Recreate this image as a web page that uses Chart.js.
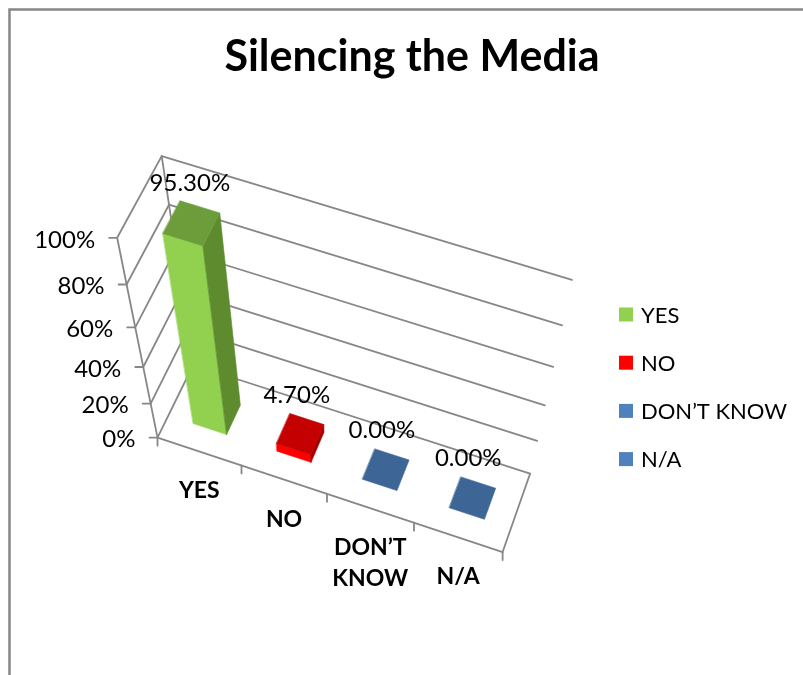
<!DOCTYPE html>
<html>
<head>
<meta charset="utf-8">
<title>Silencing the Media</title>
<script src="https://cdn.jsdelivr.net/npm/chart.js@4.4.1/dist/chart.umd.min.js"></script>
<style>
  html, body { margin: 0; padding: 0; background: #ffffff; }
  #wrap { position: relative; width: 803px; height: 675px; }
</style>
</head>
<body>
<div id="wrap"><canvas id="chart" width="803" height="675"></canvas></div>
<script>
// ---- data ----
const chartTitle = 'Silencing the Media';
const categories = ['YES', 'NO', 'DON\u2019T KNOW', 'N/A'];
const categoryLines = [['YES'], ['NO'], ['DON\u2019T', 'KNOW'], ['N/A']];
const shares = [95.3, 4.7, 0, 0];               // percent of answers
const shareLabels = ['95.30%', '4.70%', '0.00%', '0.00%'];
const valueAxisTicks = [0, 20, 40, 60, 80, 100];

// ---- styles ----
const faceColors = [
  { front: '#92D050', side: '#5E8B2E', top: '#6C9D3A' },
  { front: '#FF0000', side: '#A30000', top: '#C40000' },
  { front: '#4F81BD', side: '#2F5480', top: '#3D6595' },
  { front: '#4F81BD', side: '#2F5480', top: '#3D6595' }
];
const legendColors = ['#92D050', '#FF0000', '#4F81BD', '#4F81BD'];
const lineGray = '#878787';
const BAR_DEPTH = [0.3, 0.7];   // front / back of the columns along the depth axis

// Perspective of the 3-D box: screen positions of box landmarks,
// given as (u along categories, v along values, w along depth) -> (x, y).
const boxLandmarks = [
  [0, 0.0, 0, 158, 438], [0, 0.2, 0, 150, 404], [0, 0.4, 0, 142.5, 367],
  [0, 0.6, 0, 134.5, 327], [0, 0.8, 0, 126.5, 285], [0, 1.0, 0, 118, 238],
  [0, 1.0, 1, 162, 156],
  [1, 1.0, 1, 572, 280], [1, 0.8, 1, 562, 324], [1, 0.6, 1, 553, 367],
  [1, 0.4, 1, 545, 406], [1, 0.2, 1, 537, 442], [1, 0.0, 1, 530, 473],
  [0.25, 0, 0, 242, 465], [0.5, 0, 0, 327, 493], [0.75, 0, 0, 415, 522],
  [1, 0, 0, 502, 553]
];

// least-squares projective map (u,v,w) -> (x,y)
function fitProjection(pts) {
  const n = 11;
  const M = Array.from({ length: n }, () => new Array(n + 1).fill(0));
  const addRow = (r, b) => {
    for (let i = 0; i < n; i++) {
      for (let j = 0; j < n; j++) M[i][j] += r[i] * r[j];
      M[i][n] += r[i] * b;
    }
  };
  pts.forEach(([u, v, w, X, Y]) => {
    addRow([u, v, w, 1, 0, 0, 0, 0, -X * u, -X * v, -X * w], X);
    addRow([0, 0, 0, 0, u, v, w, 1, -Y * u, -Y * v, -Y * w], Y);
  });
  for (let c = 0; c < n; c++) {
    let p = c;
    for (let r = c + 1; r < n; r++) if (Math.abs(M[r][c]) > Math.abs(M[p][c])) p = r;
    [M[c], M[p]] = [M[p], M[c]];
    for (let r = 0; r < n; r++) {
      if (r === c) continue;
      const f = M[r][c] / M[c][c];
      for (let j = c; j <= n; j++) M[r][j] -= f * M[c][j];
    }
  }
  const s = M.map((row, i) => row[n] / row[i]);
  return (u, v, w) => {
    const d = s[8] * u + s[9] * v + s[10] * w + 1;
    return [(s[0] * u + s[1] * v + s[2] * w + s[3]) / d,
            (s[4] * u + s[5] * v + s[6] * w + s[7]) / d];
  };
}
const project = fitProjection(boxLandmarks);

function line(ctx, a, b) {
  ctx.beginPath();
  ctx.moveTo(a[0], a[1]);
  ctx.lineTo(b[0], b[1]);
  ctx.stroke();
}
function face(ctx, pts, color) {
  ctx.beginPath();
  pts.forEach((p, i) => (i ? ctx.lineTo(p[0], p[1]) : ctx.moveTo(p[0], p[1])));
  ctx.closePath();
  ctx.fillStyle = color;
  ctx.strokeStyle = color;
  ctx.lineWidth = 0.6;
  ctx.fill();
  ctx.stroke();
}

const perspectiveColumns = {
  id: 'perspectiveColumns',
  beforeDraw(chart) {
    const ctx = chart.ctx;
    ctx.save();
    ctx.fillStyle = '#ffffff';
    ctx.fillRect(0, 0, chart.width, chart.height);
    // chart frame
    ctx.strokeStyle = lineGray;
    ctx.lineWidth = 2.5;
    ctx.beginPath();
    ctx.moveTo(9.5, chart.height + 5);
    ctx.lineTo(9.5, 9.5);
    ctx.lineTo(chart.width + 5, 9.5);
    ctx.stroke();
    ctx.restore();
  },
  beforeDatasetsDraw() {
    return false; // columns are drawn as 3-D boxes below
  },
  afterDraw(chart) {
    const ctx = chart.ctx;
    const xs = chart.scales.x, ys = chart.scales.y;
    const vOf = (val) => (ys.bottom - ys.getPixelForValue(val)) / ys.height;
    const [w0, w1] = BAR_DEPTH;
    ctx.save();

    // title
    ctx.fillStyle = '#000000';
    ctx.font = 'bold 43px Lato';
    ctx.textAlign = 'center';
    ctx.textBaseline = 'alphabetic';
    ctx.fillText(chartTitle, 412, 71);

    // walls, floor and gridlines
    ctx.strokeStyle = lineGray;
    ctx.lineWidth = 1.8;
    ctx.lineCap = 'round';
    ys.ticks.forEach(t => {
      const v = vOf(t.value);
      line(ctx, project(0, v, 0), project(0, v, 1));
      line(ctx, project(0, v, 1), project(1, v, 1));
    });
    line(ctx, project(0, 0, 0), project(0, 1, 0));
    line(ctx, project(0, 0, 1), project(0, 1, 1));
    line(ctx, project(0, 0, 0), project(1, 0, 0));
    line(ctx, project(1, 0, 0), project(1, 0, 1));

    // value axis ticks and labels
    ctx.fillStyle = '#000000';
    ctx.font = '24px Lato';
    ctx.textAlign = 'right';
    ctx.textBaseline = 'middle';
    ys.ticks.forEach(t => {
      const p = project(0, vOf(t.value), 0);
      line(ctx, [p[0] - 8, p[1]], p);
      ctx.fillText(t.label, p[0] - 22, p[1] + 2);
    });

    // category ticks
    for (let k = 0; k <= categories.length; k++) {
      const u = k / categories.length;
      const p = project(u, 0, 0);
      line(ctx, p, [p[0], p[1] + 8]);
    }

    // columns
    const meta = chart.getDatasetMeta(0);
    meta.data.forEach((el, i) => {
      const uc = (el.x - xs.left) / xs.width;
      const hw = el.width / 2 / xs.width;
      const u0 = uc - hw, u1 = uc + hw;
      const vb = (ys.bottom - el.base) / ys.height;
      const vt = (ys.bottom - el.y) / ys.height;
      const col = faceColors[i];
      if (vt - vb > 0.001) {
        face(ctx, [project(u0, vb, w0), project(u1, vb, w0), project(u1, vt, w0), project(u0, vt, w0)], col.front);
        face(ctx, [project(u1, vb, w0), project(u1, vb, w1), project(u1, vt, w1), project(u1, vt, w0)], col.side);
      }
      face(ctx, [project(u0, vt, w0), project(u1, vt, w0), project(u1, vt, w1), project(u0, vt, w1)], col.top);

      // value label
      const lp = project(uc, vt, w1);
      ctx.fillStyle = '#000000';
      ctx.font = '24px Lato';
      ctx.textAlign = 'center';
      ctx.textBaseline = 'middle';
      ctx.fillText(shareLabels[i], lp[0] - 10, lp[1] - 24);

      // category label
      const cp = project(uc, 0, 0);
      ctx.font = 'bold 23px Lato';
      ctx.textBaseline = 'top';
      categoryLines[i].forEach((txt, j) => ctx.fillText(txt, cp[0], cp[1] + 28 + j * 31));
    });

    // legend
    ctx.font = '22px Lato';
    ctx.textAlign = 'left';
    ctx.textBaseline = 'middle';
    categories.forEach((name, i) => {
      const cy = 314.5 + i * 48.2;
      ctx.fillStyle = legendColors[i];
      ctx.fillRect(619, cy - 7, 14, 14);
      ctx.fillStyle = '#000000';
      ctx.fillText(name, 641, cy + 1);
    });
    ctx.restore();
  }
};

new Chart(document.getElementById('chart'), {
  type: 'bar',
  data: {
    labels: categories,
    datasets: [{
      label: chartTitle,
      data: shares,
      backgroundColor: legendColors,
      barPercentage: 0.4,
      categoryPercentage: 1.0
    }]
  },
  options: {
    responsive: false,
    animation: false,
    devicePixelRatio: 1,
    layout: { padding: 0 },
    scales: {
      x: { grid: { display: false }, border: { display: false }, ticks: { display: false } },
      y: {
        min: 0, max: 100,
        grid: { display: false }, border: { display: false },
        ticks: { display: false, callback: v => v + '%' },
        afterBuildTicks: s => { s.ticks = valueAxisTicks.map(v => ({ value: v })); }
      }
    },
    plugins: {
      legend: { display: false },
      title: { display: false },
      tooltip: { enabled: false }
    }
  },
  plugins: [perspectiveColumns]
});
</script>
</body>
</html>
